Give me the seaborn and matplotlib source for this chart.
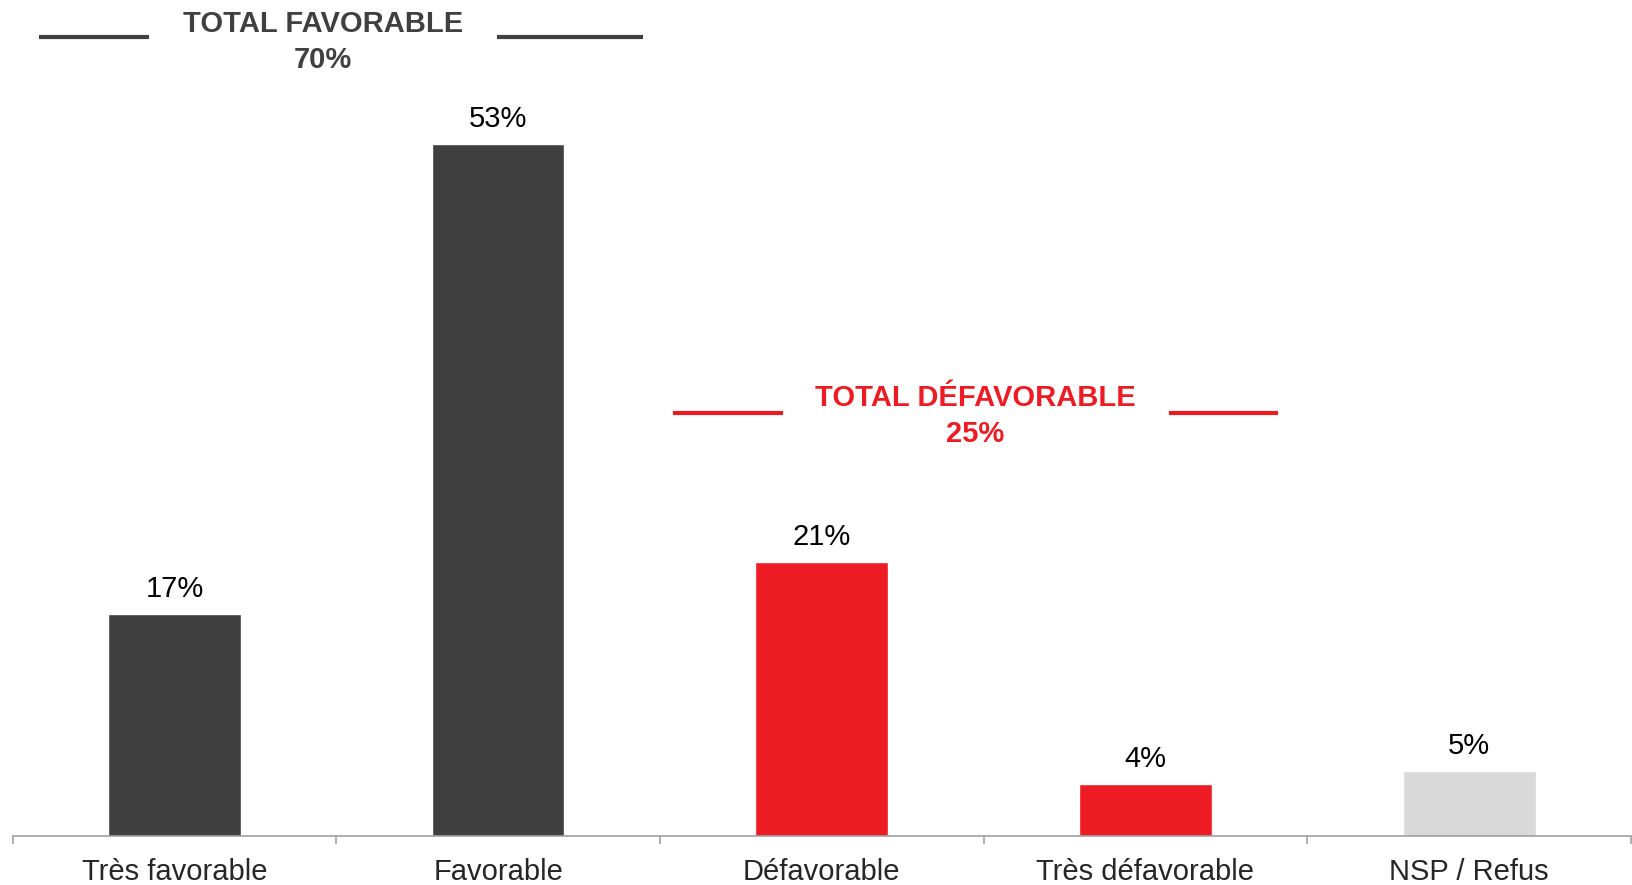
import matplotlib
matplotlib.use("Agg")
import matplotlib.pyplot as plt
import seaborn as sns

# Data
categories = ["Très favorable", "Favorable", "Défavorable", "Très défavorable", "NSP / Refus"]
values = [17, 53, 21, 4, 5]
bar_colors = ["#404040", "#404040", "#ED1C24", "#ED1C24", "#D9D9D9"]

total_fav_label = "TOTAL FAVORABLE"
total_fav_value = "70%"
total_def_label = "TOTAL DÉFAVORABLE"
total_def_value = "25%"

DARK = "#404040"
RED = "#ED1C24"

sns.set_style("white")
plt.rcParams["font.family"] = ["Liberation Sans", "DejaVu Sans"]

fig = plt.figure(figsize=(16.32, 8.85), dpi=100)
ax = fig.add_axes([0.0077, 0.0554, 0.9917, 0.9446])

sns.barplot(x=categories, y=values, hue=categories, palette=bar_colors,
            width=0.41, saturation=1, legend=False, ax=ax)

ax.set_xlim(-0.5, 4.5)
ax.set_ylim(0, 64.0)

# value labels above bars
for i, v in enumerate(values):
    ax.annotate(f"{v}%", (i, v), xytext=(0, 12), textcoords="offset points",
                ha="center", va="baseline", fontsize=21, color="black")

# axes styling
for side in ["top", "left", "right"]:
    ax.spines[side].set_visible(False)
ax.spines["bottom"].set_color("#A0A0A0")
ax.spines["bottom"].set_linewidth(1.2)
ax.set_yticks([])
ax.set_xticks(range(len(categories)))
ax.set_xticklabels(categories, fontsize=21)
ax.set_xticks([i - 0.5 for i in range(len(categories) + 1)], minor=True)
ax.tick_params(axis="x", which="both", bottom=True)
ax.tick_params(axis="x", which="major", length=0, pad=16)
ax.tick_params(axis="x", which="minor", length=6, width=1.2, color="#A0A0A0",
               direction="out")
ax.set_xlabel("")
ax.set_ylabel("")

# group headers
ax.text(0.46, 62.2, total_fav_label, ha="center", va="center", fontsize=21,
        fontweight="bold", color=DARK)
ax.text(0.46, 59.4, total_fav_value, ha="center", va="center", fontsize=21,
        fontweight="bold", color=DARK)
ax.plot([-0.417, -0.078], [61.2, 61.2], color=DARK, lw=3, solid_capstyle="butt")
ax.plot([0.998, 1.448], [61.2, 61.2], color=DARK, lw=3, solid_capstyle="butt")

ax.text(2.474, 33.55, total_def_label, ha="center", va="center", fontsize=21,
        fontweight="bold", color=RED)
ax.text(2.474, 30.8, total_def_value, ha="center", va="center", fontsize=21,
        fontweight="bold", color=RED)
ax.plot([1.541, 1.879], [32.4, 32.4], color=RED, lw=3, solid_capstyle="butt")
ax.plot([3.072, 3.410], [32.4, 32.4], color=RED, lw=3, solid_capstyle="butt")

fig.savefig("out.png", dpi=100)
